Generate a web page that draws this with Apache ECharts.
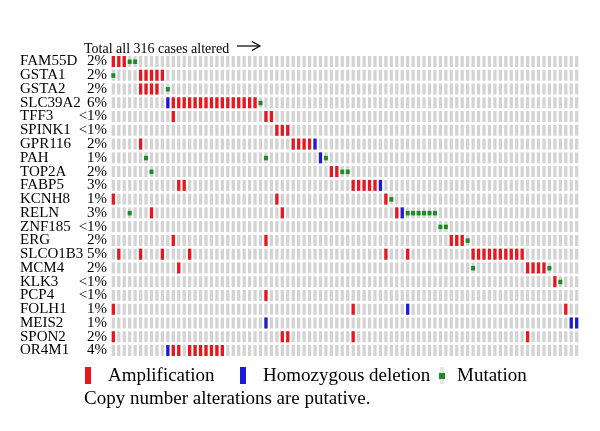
<!DOCTYPE html>
<html>
<head>
<meta charset="utf-8">
<script src="https://cdn.jsdelivr.net/npm/echarts@6/dist/echarts.min.js"></script>
<style>html,body{margin:0;padding:0;background:#fff}#c{width:600px;height:431px}</style>
</head>
<body>
<div id="c"></div>
<script>
const genes = ["FAM55D","GSTA1","GSTA2","SLC39A2","TFF3","SPINK1","GPR116","PAH","TOP2A","FABP5","KCNH8","RELN","ZNF185","ERG","SLCO1B3","MCM4","KLK3","PCP4","FOLH1","MEIS2","SPON2","OR4M1"];
const pcts = ["2%","2%","2%","6%","<1%","<1%","2%","1%","2%","3%","1%","3%","<1%","2%","5%","2%","<1%","<1%","1%","1%","2%","4%"];
const nCases = 86;
// case indices per gene (same order as genes)
const amplification = [
  [0,1,2],
  [5,6,7,8,9],
  [5,6,7,8],
  [11,12,13,14,15,16,17,18,19,20,21,22,23,24,25,26],
  [11,28,29],
  [30,31,32],
  [5,33,34,35,36],
  [],
  [40,41],
  [12,13,44,45,46,47,48],
  [0,30,50],
  [7,31,52],
  [],
  [11,28,62,63,64],
  [1,5,9,14,50,54,66,67,68,69,70,71,72,73,74,75],
  [12,76,77,78,79],
  [81],
  [28],
  [0,44,83],
  [],
  [0,31,32,44,76],
  [11,12,14,15,16,17,18,19,20]
];
const homDeletion = [
  [],[],[],[10],[],[],[37],[38],[],[49],[],[53],[],[],[],[],[],[],[54],[28,84,85],[],[10]
];
const mutation = [
  [3,4],[0],[10],[27],[],[],[],[6,28,39],[7,42,43],[],[51],[3,54,55,56,57,58,59],[60,61],[65],[],[66,80],[82],[],[],[],[],[]
];

const caseLabels = Array.from({length: nCases}, (_, i) => String(i + 1));
function cells(byGene) {
  const out = [];
  byGene.forEach((list, g) => list.forEach(c => out.push([c, g])));
  return out;
}
const allCells = [];
for (let g = 0; g < genes.length; g++) for (let c = 0; c < nCases; c++) allCells.push([c, g]);

function barRender(color, wf, hf) {
  return function (params, api) {
    const p = api.coord([api.value(0), api.value(1)]);
    const sz = api.size([1, 1]);
    const w = sz[0] * wf, h = sz[1] * hf;
    return {type: 'rect', shape: {x: p[0] - w / 2, y: p[1] - h / 2, width: w, height: h}, style: {fill: color}};
  };
}
function sqRender(color) {
  return function (params, api) {
    const p = api.coord([api.value(0), api.value(1)]);
    return {type: 'rect', shape: {x: p[0] - 2, y: p[1] - 2, width: 4, height: 4.5}, style: {fill: color}};
  };
}

const serif = "'Liberation Serif','DejaVu Serif',serif";
const RED = '#e8161e', BLUE = '#1a1ad8', GREEN = '#1f8a25', GRAY = '#d3d3d3';

const chart = echarts.init(document.getElementById('c'), null, {renderer: 'canvas'});
chart.setOption({
  animation: false,
  title: {text: 'Total all 316 cases altered', left: 79, top: 37,
    textStyle: {fontFamily: serif, fontSize: 14, fontWeight: 'normal', color: '#000'}},
  grid: {left: 110.6, top: 54.6, width: 468.8, height: 302.8},
  xAxis: {type: 'category', data: caseLabels, show: false},
  yAxis: [
    {type: 'category', data: genes, inverse: true, position: 'left',
      axisLine: {show: false}, axisTick: {show: false}, splitLine: {show: false},
      axisLabel: {interval: 0, align: 'left', margin: 90.6, fontFamily: serif, fontSize: 15, color: '#000'}},
    {type: 'category', data: pcts, inverse: true, position: 'left', offset: 0,
      axisLine: {show: false}, axisTick: {show: false}, splitLine: {show: false},
      axisLabel: {interval: 0, align: 'right', margin: 3.5, fontFamily: serif, fontSize: 15, color: '#000'}}
  ],
  series: [
    {type: 'custom', name: 'bg', data: allCells, renderItem: barRender(GRAY, 0.6, 0.8), silent: true},
    {type: 'custom', name: 'Amplification', data: cells(amplification), renderItem: barRender(RED, 0.6, 0.8)},
    {type: 'custom', name: 'Homozygous deletion', data: cells(homDeletion), renderItem: barRender(BLUE, 0.6, 0.8)},
    {type: 'custom', name: 'Mutation', data: cells(mutation), renderItem: sqRender(GREEN)}
  ],
  graphic: [
    {type: 'line', shape: {x1: 237, y1: 46, x2: 259, y2: 46}, style: {stroke: '#000', lineWidth: 1.2}},
    {type: 'polyline', shape: {points: [[252, 41.5], [260, 46], [252, 50.5]]}, style: {stroke: '#000', lineWidth: 1.2, fill: null}},
    {type: 'rect', shape: {x: 85, y: 367, width: 6, height: 17}, style: {fill: RED}},
    {type: 'text', x: 108, y: 376, style: {text: 'Amplification', fontFamily: serif, fontSize: 19, fill: '#000', verticalAlign: 'middle'}},
    {type: 'rect', shape: {x: 240, y: 367, width: 6, height: 17}, style: {fill: BLUE}},
    {type: 'text', x: 263, y: 376, style: {text: 'Homozygous deletion', fontFamily: serif, fontSize: 19, fill: '#000', verticalAlign: 'middle'}},
    {type: 'rect', shape: {x: 440, y: 367, width: 4, height: 17}, style: {fill: '#e4e4e4'}},
    {type: 'rect', shape: {x: 439, y: 373, width: 6, height: 6}, style: {fill: GREEN}},
    {type: 'text', x: 457, y: 376, style: {text: 'Mutation', fontFamily: serif, fontSize: 19, fill: '#000', verticalAlign: 'middle'}},
    {type: 'text', x: 84, y: 399, style: {text: 'Copy number alterations are putative.', fontFamily: serif, fontSize: 19, fill: '#000', verticalAlign: 'middle'}}
  ]
});
</script>
</body>
</html>
